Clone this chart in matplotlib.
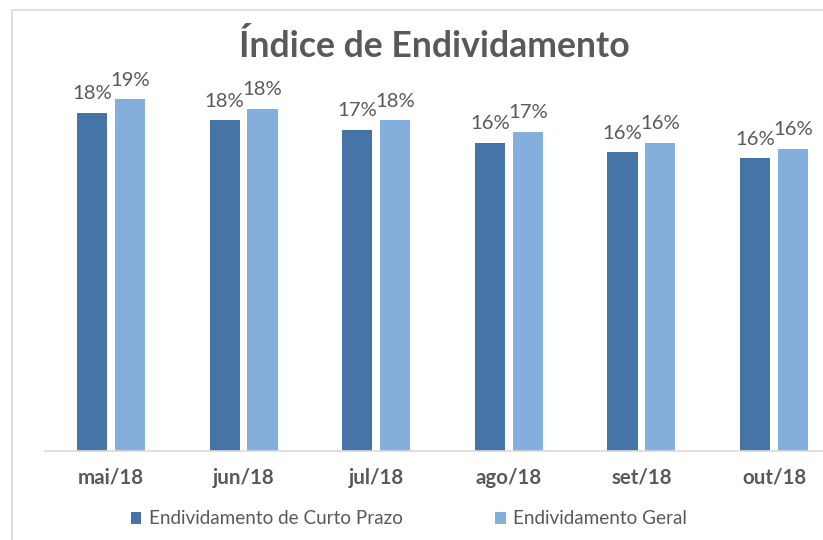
import matplotlib
matplotlib.use("Agg")
import matplotlib.pyplot as plt
import numpy as np
from matplotlib.lines import Line2D

categories = ["mai/18", "jun/18", "jul/18", "ago/18", "set/18", "out/18"]
curto_prazo = [17.9, 17.5, 17.0, 16.3, 15.8, 15.5]
geral = [18.6, 18.1, 17.5, 16.9, 16.3, 16.0]
series_names = ["Endividamento de Curto Prazo", "Endividamento Geral"]
title = "Índice de Endividamento"

dark = "#4674A6"
light = "#84AFDC"
text_c = "#595959"

plt.rcParams['font.family'] = ['Lato', 'DejaVu Sans']

W, H = 823, 540
fig = plt.figure(figsize=(W / 100, H / 100), dpi=100)
fig.patch.set_facecolor("white")

# axes geometry in pixels
left_px, right_px = 44.7, 840.3
base_px, top_px = 451, 63.5
ax = fig.add_axes([left_px / W, (H - base_px) / H, (right_px - left_px) / W, (base_px - top_px) / H])

x = np.arange(len(categories))
off = 0.143
w = 0.228
b1 = ax.bar(x - off, curto_prazo, w, color=dark, label=series_names[0])
b2 = ax.bar(x + off, geral, w, color=light, label=series_names[1])

for bars, vals in ((b1, curto_prazo), (b2, geral)):
    for rect, v in zip(bars, vals):
        ax.annotate(f"{round(v):.0f}%", (rect.get_x() + rect.get_width() / 2, rect.get_height()),
                    xytext=(0, 7.5), textcoords="offset points", ha="center", va="bottom",
                    fontsize=14.6, color=text_c)

ax.set_xlim(-0.5, len(categories) - 0.5)
ax.set_ylim(0, 20.5)
ax.set_yticks([])
ax.set_xticks(x)
ax.set_xticklabels(categories, fontsize=14.8, fontweight="bold", color=text_c)
ax.tick_params(axis="x", length=0, pad=12)
for s in ("top", "right", "left"):
    ax.spines[s].set_visible(False)
ax.spines["bottom"].set_color("#D9D9D9")
ax.spines["bottom"].set_linewidth(1.2)

fig.text(434 / W, 1 - 46 / H, title, ha="center", va="center", fontsize=25.7,
         fontweight="bold", color=text_c)

leg = fig.legend(handles=[b1, b2], labels=series_names, loc="center",
                 bbox_to_anchor=(409 / W, 1 - 519 / H), ncol=2, frameon=False,
                 fontsize=13.6, handlelength=0.55, handleheight=0.55, handletextpad=0.4,
                 columnspacing=4.9)
for t in leg.get_texts():
    t.set_color(text_c)

# chart border (left and top visible)
fig.add_artist(Line2D([12 / W, 12 / W], [0, 1 - 10 / H], color="#D9D9D9", lw=1.2, transform=fig.transFigure))
fig.add_artist(Line2D([12 / W, 1], [1 - 10 / H, 1 - 10 / H], color="#D9D9D9", lw=1.2, transform=fig.transFigure))

fig.savefig("out.png", dpi=100)
